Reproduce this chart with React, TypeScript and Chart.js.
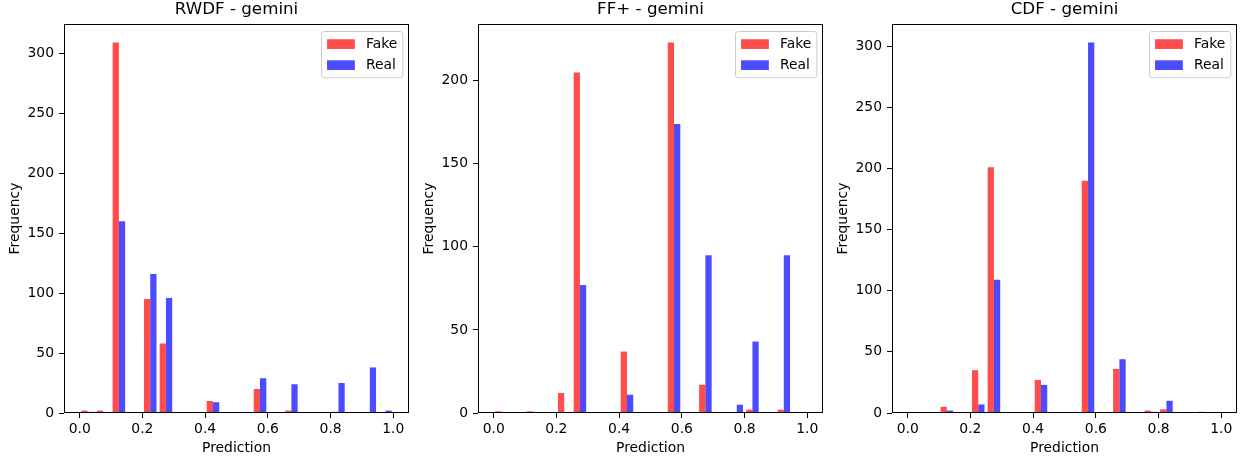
import React, { useEffect, useRef } from 'react';
import { Chart, registerables } from 'chart.js';

Chart.register(...registerables);

const FONT = "'DejaVu Sans', 'Liberation Sans', sans-serif";
const FS = 13.9;
const TITLE_FS = 16.7;

// Histogram bins (20 bins over 0..1), centers
const binCenters = [0.025, 0.075, 0.125, 0.175, 0.225, 0.275, 0.325, 0.375, 0.425, 0.475, 0.525, 0.575, 0.625, 0.675, 0.725, 0.775, 0.825, 0.875, 0.925, 0.975];
const xTicks = [0, 0.2, 0.4, 0.6, 0.8, 1.0];
const seriesLabels = ['Fake', 'Real'];
const seriesColors = ['rgba(255,0,0,0.7)', 'rgba(0,0,255,0.7)'];

const rwdfTitle = 'RWDF - gemini';
const rwdfFake = [2, 2, 309, 0, 95, 58, 0, 0, 10, 0, 0, 20, 0, 2, 0, 0, 1, 0, 0, 0];
const rwdfReal = [1, 0, 160, 0, 116, 96, 0, 0, 9, 0, 0, 29, 0, 24, 0, 0, 25, 0, 38, 2];
const rwdfTicks = [0, 50, 100, 150, 200, 250, 300];

const ffTitle = 'FF+ - gemini';
const ffFake = [1, 0, 1, 0, 12, 205, 0, 0, 37, 0, 0, 223, 0, 17, 0, 0, 2, 0, 2, 0];
const ffReal = [0, 0, 0, 0, 0, 77, 0, 0, 11, 0, 0, 174, 0, 95, 0, 5, 43, 0, 95, 0];
const ffTicks = [0, 50, 100, 150, 200];

const cdfTitle = 'CDF - gemini';
const cdfFake = [0, 0, 5, 0, 35, 201, 0, 0, 27, 0, 0, 190, 0, 36, 0, 2, 3, 0, 0, 0];
const cdfReal = [0, 0, 2, 0, 7, 109, 0, 0, 23, 0, 0, 303, 0, 44, 0, 1, 10, 0, 1, 0];
const cdfTicks = [0, 50, 100, 150, 200, 250, 300];

const xLabel = 'Prediction';
const yLabel = 'Frequency';

const spines = {
  id: 'spines',
  afterDatasetsDraw(chart: any) {
    const { ctx, chartArea: a } = chart;
    ctx.save();
    ctx.strokeStyle = '#000';
    ctx.lineWidth = 1;
    const l = Math.round(a.left) + 0.5;
    const r = Math.round(a.right) - 0.5;
    const t = Math.round(a.top) + 0.5;
    const b = Math.round(a.bottom) - 0.5;
    ctx.strokeRect(l, t, r - l, b - t);
    ctx.restore();
  },
};

const mplLegend = {
  id: 'mplLegend',
  afterDraw(chart: any) {
    const { ctx, chartArea: a } = chart;
    const em = FS;
    ctx.save();
    ctx.font = `${em}px ${FONT}`;
    const ds = chart.data.datasets;
    const tw = Math.max(...ds.map((d: any) => ctx.measureText(d.label).width));
    const bp = 0.4 * em, hl = 2 * em, hp = 0.8 * em, ls = 0.5 * em, rowH = 14.1;
    const w = bp + hl + hp + tw + bp;
    const h = bp * 2 + rowH * ds.length + ls * (ds.length - 1);
    const x = Math.round(a.right - 0.5 * em - w) + 0.5;
    const y = Math.round(a.top + 0.5 * em) + 0.5;
    const rr = 2.8;
    ctx.beginPath();
    ctx.moveTo(x + rr, y);
    ctx.lineTo(x + w - rr, y);
    ctx.arcTo(x + w, y, x + w, y + rr, rr);
    ctx.lineTo(x + w, y + h - rr);
    ctx.arcTo(x + w, y + h, x + w - rr, y + h, rr);
    ctx.lineTo(x + rr, y + h);
    ctx.arcTo(x, y + h, x, y + h - rr, rr);
    ctx.lineTo(x, y + rr);
    ctx.arcTo(x, y, x + rr, y, rr);
    ctx.closePath();
    ctx.fillStyle = 'rgba(255,255,255,0.8)';
    ctx.fill();
    ctx.strokeStyle = '#cccccc';
    ctx.lineWidth = 1;
    ctx.stroke();
    ds.forEach((d: any, i: number) => {
      const cy = y + bp + rowH / 2 + i * (rowH + ls);
      ctx.fillStyle = d.backgroundColor;
      ctx.fillRect(x + bp, cy - 0.35 * em, hl, 0.7 * em);
      ctx.fillStyle = '#000';
      ctx.textAlign = 'left';
      ctx.textBaseline = 'middle';
      ctx.fillText(d.label, x + bp + hl + hp, cy);
    });
    ctx.restore();
  },
};

type PanelProps = {
  title: string;
  fake: number[];
  real: number[];
  yTicks: number[];
  left: number;
  width: number;
  padRight: number;
};

function Panel({ title, fake, real, yTicks, left, width, padRight }: PanelProps) {
  const ref = useRef<HTMLCanvasElement | null>(null);
  useEffect(() => {
    if (!ref.current) return;
    const series = [fake, real];
    const yMax = Math.max(...fake, ...real) * 1.05;
    const tickFont = { size: FS, family: FONT };
    const chart = new Chart(ref.current, {
      type: 'bar',
      data: {
        datasets: series.map((s, i) => ({
          label: seriesLabels[i],
          data: binCenters.map((c, j) => ({ x: c, y: s[j] })),
          backgroundColor: seriesColors[i],
          borderWidth: 0,
          categoryPercentage: 0.8,
          barPercentage: 1.0,
        })),
      },
      options: {
        responsive: false,
        animation: false,
        devicePixelRatio: 1,
        layout: { padding: { left: 0, right: padRight, top: 0, bottom: 0 } },
        plugins: {
          legend: { display: false },
          tooltip: { enabled: false },
          title: {
            display: true,
            text: title,
            fullSize: false,
            color: '#000',
            font: { size: TITLE_FS, family: FONT, weight: 'normal' },
            padding: { top: 0, bottom: 3.96 },
          },
        },
        scales: {
          x: {
            type: 'linear',
            min: -0.05,
            max: 1.05,
            offset: false,
            afterBuildTicks: (s: any) => {
              s.ticks = xTicks.map((v) => ({ value: v }));
            },
            afterFit: (s: any) => {
              s.height = 50;
            },
            ticks: {
              callback: (v: any) => Number(v).toFixed(1),
              font: tickFont,
              color: '#000',
              padding: 3.2,
              maxRotation: 0,
              autoSkip: false,
            },
            grid: {
              display: true,
              drawOnChartArea: false,
              drawTicks: true,
              tickLength: 5,
              tickColor: '#000',
              tickWidth: 1,
              offset: false,
            },
            border: { display: false },
            title: {
              display: true,
              text: xLabel,
              color: '#000',
              font: tickFont,
              padding: { top: 0, bottom: 6 },
            },
          },
          y: {
            type: 'linear',
            min: 0,
            max: yMax,
            afterBuildTicks: (s: any) => {
              s.ticks = yTicks.map((v) => ({ value: v }));
            },
            afterFit: (s: any) => {
              s.width = 64;
            },
            ticks: {
              font: tickFont,
              color: '#000',
              padding: 5,
              callback: (v: any) => String(v),
            },
            grid: {
              display: true,
              drawOnChartArea: false,
              drawTicks: true,
              tickLength: 5,
              tickColor: '#000',
              tickWidth: 1,
            },
            border: { display: false },
            title: {
              display: true,
              text: yLabel,
              color: '#000',
              font: tickFont,
              padding: { top: 6.9, bottom: 0 },
            },
          },
        },
      },
      plugins: [spines, mplLegend],
    } as any);
    return () => chart.destroy();
  }, [title, fake, real, yTicks, padRight]);
  return (
    <canvas
      ref={ref}
      width={width}
      height={463}
      style={{ position: 'absolute', left, top: 0, width, height: 463 }}
    />
  );
}

export default function App() {
  return (
    <div style={{ position: 'fixed', left: 0, top: 0, width: 1243, height: 463, background: '#fff' }}>
      <Panel title={rwdfTitle} fake={rwdfFake} real={rwdfReal} yTicks={rwdfTicks} left={0} width={414} padRight={5} />
      <Panel title={ffTitle} fake={ffFake} real={ffReal} yTicks={ffTicks} left={414} width={414} padRight={5} />
      <Panel title={cdfTitle} fake={cdfFake} real={cdfReal} yTicks={cdfTicks} left={828} width={415} padRight={6} />
    </div>
  );
}
